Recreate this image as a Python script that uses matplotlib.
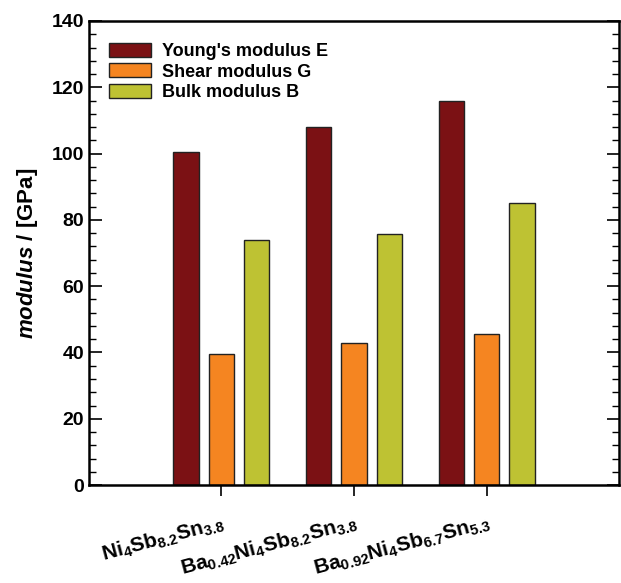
import numpy as np
import matplotlib
matplotlib.use('Agg')
import matplotlib.pyplot as plt
from matplotlib.ticker import MultipleLocator

plt.rcParams['font.family'] = 'Liberation Sans'
plt.rcParams['font.weight'] = 'bold'
plt.rcParams['mathtext.fontset'] = 'custom'
plt.rcParams['mathtext.rm'] = 'Liberation Sans:bold'
plt.rcParams['mathtext.it'] = 'Liberation Sans:italic:bold'
plt.rcParams['mathtext.default'] = 'rm'

# compositions and elastic moduli (GPa)
samples = [r'$Ni_4Sb_{8.2}Sn_{3.8}$',
           r'$Ba_{0.42}Ni_4Sb_{8.2}Sn_{3.8}$',
           r'$Ba_{0.92}Ni_4Sb_{6.7}Sn_{5.3}$']
young_E = [100.6, 107.9, 115.9]
shear_G = [39.4, 42.8, 45.5]
bulk_B = [74.0, 75.6, 85.0]

series = ["Young's modulus E", "Shear modulus G", "Bulk modulus B"]
colors = ['#7b1114', '#f58521', '#bec233']

fig = plt.figure(figsize=(6.21, 5.83), dpi=100)
ax = fig.add_axes([0.143, 0.168, 0.854, 0.796])

x = np.arange(1, len(samples) + 1)
w = 0.19
off = 0.267
for i, (vals, lab, c) in enumerate(zip([young_E, shear_G, bulk_B], series, colors)):
    ax.bar(x + (i - 1) * off, vals, width=w, color=c, edgecolor='#222222',
           linewidth=1.0, label=lab)

ax.set_xlim(0, 4)
ax.set_ylim(0, 140)
ax.set_xticks(x)
ax.set_xticklabels(samples, rotation=15, ha='right', rotation_mode='anchor',
                   fontsize=15)
ax.tick_params(axis='x', direction='out', length=8, width=1.2, pad=11)
ax.yaxis.set_major_locator(MultipleLocator(20))
ax.yaxis.set_minor_locator(MultipleLocator(4))
ax.tick_params(axis='y', which='major', direction='in', length=9, width=1.2,
               right=True, labelsize=14)
ax.tick_params(axis='y', which='minor', direction='in', length=5, width=1.0,
               right=True)
for s in ax.spines.values():
    s.set_linewidth(1.8)

ax.set_ylabel(r'$\mathit{modulus}$ / [GPa]', fontsize=16, fontweight='bold',
              labelpad=8)

ax.legend(loc='upper left', frameon=False, fontsize=13, handlelength=2.3,
          handleheight=0.8, labelspacing=0.18, handletextpad=0.6,
          borderaxespad=0.0, bbox_to_anchor=(0.025, 0.968))

fig.savefig('out.png', dpi=100)
